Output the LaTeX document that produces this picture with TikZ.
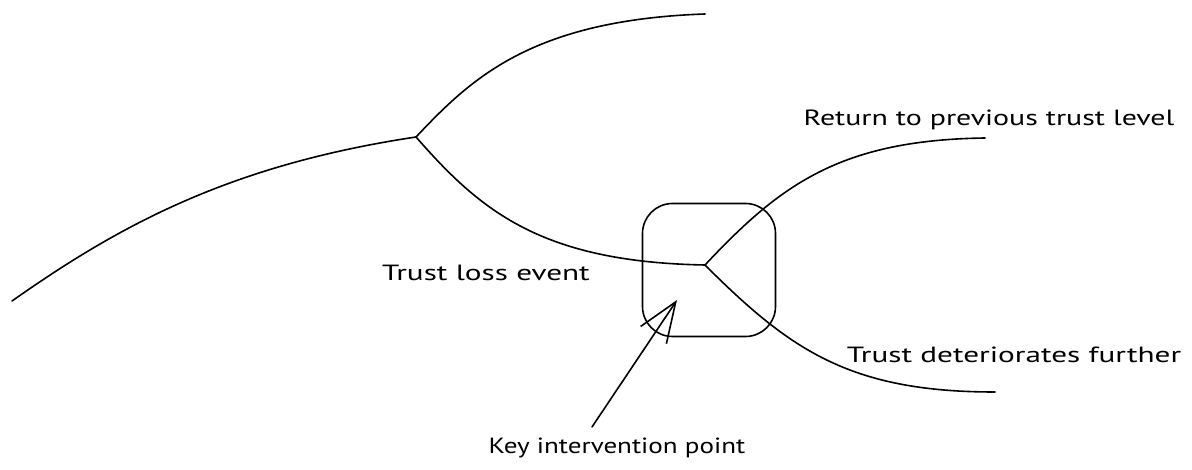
\documentclass[tikz,border=0pt]{standalone}
\usepackage{fontspec}
\setmainfont{PT Sans}
\usetikzlibrary{arrows.meta}
\begin{document}
\begin{tikzpicture}[x=1pt,y=-1pt,
  stroke/.style={line width=1.6pt, line cap=round, line join=round, black},
  lbl/.style={font=\fontsize{22}{26}\selectfont, inner sep=0pt}]
\useasboundingbox (0,0) rectangle (1192,470);
\fill[white] (0,0) rectangle (1192,470);
% points
\coordinate (s) at (12,301);
\coordinate (b1) at (416,137);
\coordinate (e1) at (705,14);
\coordinate (b2) at (705,265);
\coordinate (e2) at (985,138);
\coordinate (e3) at (995,392);
\coordinate (tail) at (592,427);
\coordinate (tip) at (677,300);
% box
\node[stroke, draw, rounded corners=30pt, minimum width=133pt, minimum height=133pt, inner sep=0pt] (box) at (709,270) {};
% curves
\draw[stroke] (s) .. controls (120,225) and (230,165) .. (b1);
\draw[stroke] (b1) .. controls (470,80) and (530,20) .. (e1);
\draw[stroke] (b1) .. controls (480,210) and (540,262) .. (b2);
\draw[stroke] (b2) .. controls (780,185) and (840,140) .. (e2);
\draw[stroke] (b2) .. controls (790,350) and (850,392) .. (e3);
% arrow
\draw[stroke, -{Straight Barb[length=40pt,width=31pt,line width=1.6pt]}] (tail) -- (tip);
% labels
\node[lbl] (ret) at (989,120) {\scalebox{1.36}[1]{Return to previous trust level}};
\node[lbl] (loss) at (486,273) {\scalebox{1.42}[1]{Trust loss event}};
\node[lbl] (det) at (1014,355) {\scalebox{1.42}[1]{Trust deteriorates further}};
\node[lbl] (key) at (617,448) {\scalebox{1.23}[1]{Key intervention point}};
\end{tikzpicture}
\end{document}
